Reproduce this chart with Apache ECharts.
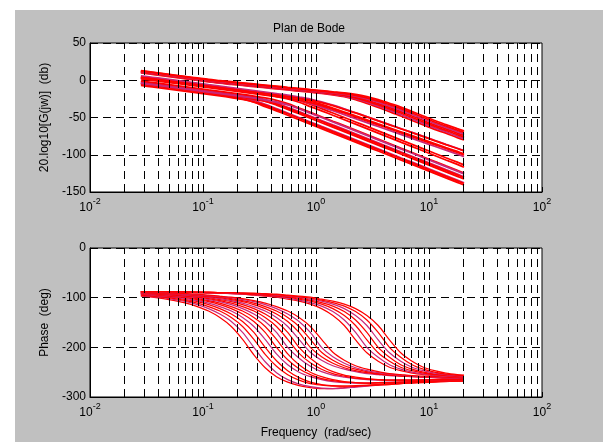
<!DOCTYPE html>
<html><head><meta charset="utf-8">
<script src="https://cdn.jsdelivr.net/npm/echarts@6/dist/echarts.min.js"></script>
<style>
html,body{margin:0;padding:0;background:#fff;width:603px;height:442px;overflow:hidden}
#c{position:absolute;left:15px;top:10px;width:588px;height:432px}
</style>
</head><body><div id="c"></div>
<script>
// frequency samples (rad/sec)
const freq = [0.0282,0.0355,0.0447,0.0562,0.0708,0.0891,0.112,0.141,0.178,0.224,0.282,0.355,0.447,0.562,0.708,0.891,1.12,1.41,1.78,2.24,2.82,3.55,4.47,5.62,7.08,8.91,11.2,14.1,17.8,20.4];

// magnitude (dB) - upper band
const magA0 = [10,8,6,4,2,0,-2,-4,-5.5,-7,-8.5,-10,-11.5,-13,-14.5,-16,-17.5,-19.5,-22,-26,-31,-36.5,-42,-48,-54,-60,-66,-71,-77,-80];
const magA1 = [10.5,8.5,6.5,4.5,2.5,0.5,-1.5,-3.4,-4.9,-6.4,-7.9,-9.4,-10.9,-12.4,-13.9,-15.4,-16.9,-18.8,-21.2,-24.8,-29.5,-34.8,-40.2,-46,-52,-58,-64,-69.1,-75,-78];
const magA2 = [11,9,7,5,3,1,-1,-2.8,-4.3,-5.8,-7.3,-8.8,-10.3,-11.8,-13.3,-14.8,-16.3,-18.2,-20.3,-23.7,-28,-33,-38.3,-44,-50,-56,-62,-67.2,-73,-76];
const magA3 = [11.5,9.5,7.5,5.5,3.5,1.5,-0.5,-2.3,-3.8,-5.3,-6.8,-8.3,-9.8,-11.3,-12.8,-14.3,-15.8,-17.5,-19.5,-22.5,-26.5,-31.3,-36.5,-42,-48,-54,-60,-65.3,-71,-74];
const magA4 = [12,10,8,6,4,2,0,-1.7,-3.2,-4.7,-6.2,-7.7,-9.2,-10.7,-12.2,-13.7,-15.2,-16.8,-18.7,-21.3,-25,-29.5,-34.7,-40,-46,-52,-58,-63.3,-69,-72];
const magA5 = [12.5,10.5,8.5,6.5,4.5,2.5,0.5,-1.1,-2.6,-4.1,-5.6,-7.1,-8.6,-10.1,-11.6,-13.1,-14.6,-16.2,-17.8,-20.2,-23.5,-27.8,-32.8,-38,-44,-50,-56,-61.4,-67,-70];
const magA6 = [13,11,9,7,5,3,1,-0.5,-2,-3.5,-5,-6.5,-8,-9.5,-11,-12.5,-14,-15.5,-17,-19,-22,-26,-31,-36,-42,-48,-54,-59.5,-65,-68];
// magnitude (dB) - lower families
const magB0 = [-5,-7,-9,-11,-13,-15,-17,-19.3,-21.8,-25,-29.5,-35.3,-41,-47,-53,-59,-65,-71,-77,-83,-89,-95,-101,-107,-113,-119,-125,-131,-137,-140.6];
const magB1 = [-4,-6,-8,-10,-12,-14,-16,-18,-20.5,-23.2,-27,-32.3,-38.2,-44,-50,-56,-62,-68,-74,-80,-86,-92,-98,-104,-110,-116,-122,-128,-134,-137.6];
const magB2 = [-7,-9,-11,-13,-15,-17,-19,-21,-23.3,-25.8,-29,-33.5,-39.3,-45,-51,-57,-63,-69,-75,-81,-87,-93,-99,-105,-111,-117,-123,-129,-135,-138.6];
const magB3 = [-3,-5,-7,-9,-11,-13,-15,-17,-19,-21.5,-24.2,-28,-33.3,-39.2,-45,-51,-57,-63,-69,-75,-81,-87,-93,-99,-105,-111,-117,-123,-129,-132.6];
const magB4 = [-2,-4,-6,-8,-10,-12,-14,-16,-18,-20.3,-22.8,-26,-30.5,-36.3,-42,-48,-54,-60,-66,-72,-78,-84,-90,-96,-102,-108,-114,-120,-126,-129.6];
const magB5 = [-5,-7,-9,-11,-13,-15,-17,-19,-21,-23,-25.5,-28.2,-32,-37.3,-43.2,-49,-55,-61,-67,-73,-79,-85,-91,-97,-103,-109,-115,-121,-127,-130.6];
const magB6 = [-1,-3,-5,-7,-9,-11,-13,-15,-17,-19,-21.3,-23.8,-27,-31.5,-37.3,-43,-49,-55,-61,-67,-73,-79,-85,-91,-97,-103,-109,-115,-121,-124.6];
const magB7 = [-4,-6,-8,-10,-12,-14,-16,-18,-20,-22,-24,-26.5,-29.2,-33,-38.3,-44.2,-50,-56,-62,-68,-74,-80,-86,-92,-98,-104,-110,-116,-122,-125.6];
const magB8 = [3,1,-1,-3,-5,-7,-9,-11,-13,-15,-17,-19.3,-21.8,-25,-29.5,-35.3,-41,-47,-53,-59,-65,-71,-77,-83,-89,-95,-101,-107,-113,-116.6];
const magB9 = [4,2,0,-2,-4,-6,-8,-10,-12,-14,-16,-18,-20.5,-23.2,-27,-32.3,-38.2,-44,-50,-56,-62,-68,-74,-80,-86,-92,-98,-104,-110,-113.6];
const magC0 = [3,1,-1,-3,-5,-7,-9,-11,-13,-15,-17,-19,-21.3,-23.8,-27,-31,-36,-40.9,-46.2,-51.5,-56.8,-62.1,-67.4,-72.7,-78,-83.3,-88.6,-93.9,-99.2,-102.4];
const magC1 = [5,3,1,-1,-3,-5,-7,-9,-11,-13,-15,-17,-19,-21.5,-24.2,-28,-32.5,-37.5,-42.6,-47.9,-53.2,-58.5,-63.8,-69.1,-74.4,-79.7,-85,-90.3,-95.6,-98.8];
const magC2 = [2,0,-2,-4,-6,-8,-10,-12,-14,-16,-18,-20,-22,-24.3,-26.8,-30,-34,-39,-43.9,-49.2,-54.5,-59.8,-65.1,-70.4,-75.7,-81,-86.3,-91.6,-96.9,-100.1];
const magC3 = [6,4,2,0,-2,-4,-6,-8,-10,-12,-14,-16,-18,-20,-22.5,-25.2,-29,-33.5,-38.5,-43.6,-48.9,-54.2,-59.5,-64.8,-70.1,-75.4,-80.7,-86,-91.3,-94.5];
const magC4 = [4,2,0,-2,-4,-6,-8,-10,-12,-14,-16,-18,-20,-22,-24.3,-26.8,-30,-34,-39,-43.9,-49.2,-54.5,-59.8,-65.1,-70.4,-75.7,-81,-86.3,-91.6,-94.8];

// phase (deg) - lower family
const phB0 = [-97,-99,-102,-106,-111,-118,-127,-140,-158,-184,-215,-241,-259,-270,-277,-281,-283,-283,-281,-279,-277,-275,-273,-272,-271,-270,-269,-268,-267,-267];
const phB1 = [-96,-98,-100,-104,-108,-114,-122,-133,-148,-170,-200,-229,-251,-265,-274,-279,-282,-283,-282,-280,-278,-276,-274,-272,-271,-270,-269,-268,-267,-267];
const phB2 = [-95,-97,-99,-102,-106,-111,-118,-127,-140,-158,-184,-214,-238,-255,-266,-273,-276,-278,-278,-277,-276,-275,-274,-273,-271,-270,-269,-268,-268,-267];
const phB3 = [-94,-96,-98,-100,-104,-108,-114,-122,-133,-148,-170,-200,-227,-247,-261,-270,-275,-277,-278,-278,-277,-276,-275,-273,-272,-271,-270,-269,-268,-268];
const phB4 = [-93,-95,-97,-99,-102,-106,-111,-118,-127,-140,-158,-184,-213,-235,-250,-259,-265,-269,-271,-272,-272,-271,-270,-270,-269,-268,-267,-267,-266,-266];
const phB5 = [-93,-94,-96,-98,-100,-104,-108,-114,-122,-133,-148,-170,-200,-225,-243,-255,-263,-267,-270,-271,-272,-271,-271,-270,-269,-268,-268,-267,-266,-266];
const phB6 = [-92,-93,-95,-97,-99,-102,-106,-111,-118,-127,-140,-158,-184,-213,-235,-250,-259,-265,-269,-271,-272,-272,-271,-270,-270,-269,-268,-267,-267,-266];
const phB7 = [-92,-93,-94,-96,-98,-100,-104,-108,-114,-122,-133,-148,-170,-200,-222,-238,-249,-256,-260,-263,-265,-266,-266,-266,-266,-265,-265,-265,-265,-265];
const phB8 = [-91,-92,-93,-95,-97,-99,-102,-106,-111,-118,-127,-140,-158,-184,-212,-231,-244,-253,-258,-262,-264,-265,-266,-266,-266,-266,-265,-265,-265,-265];
const phB9 = [-91,-92,-93,-94,-96,-98,-100,-104,-108,-114,-122,-133,-148,-170,-200,-222,-238,-249,-256,-260,-263,-265,-266,-266,-266,-266,-265,-265,-265,-265];
const phC0 = [-91,-91,-92,-93,-95,-97,-99,-102,-106,-111,-118,-127,-140,-158,-184,-210,-226,-237,-244,-249,-253,-255,-257,-258,-259,-260,-261,-262,-262,-263];
const phC1 = [-90,-91,-92,-93,-94,-96,-98,-100,-104,-108,-114,-122,-133,-148,-170,-200,-219,-232,-241,-247,-251,-254,-256,-258,-259,-260,-261,-262,-262,-263];
const phC2 = [-90,-91,-91,-92,-93,-95,-97,-99,-102,-106,-111,-118,-127,-140,-158,-184,-210,-226,-237,-244,-249,-253,-255,-257,-258,-259,-260,-261,-262,-262];
const phC3 = [-90,-90,-91,-92,-93,-94,-96,-98,-100,-104,-108,-114,-122,-133,-148,-170,-200,-219,-232,-241,-247,-251,-254,-256,-258,-259,-260,-261,-262,-262];
const phC4 = [-89,-90,-91,-91,-92,-93,-95,-97,-99,-102,-106,-111,-118,-127,-140,-158,-184,-210,-226,-237,-244,-249,-253,-255,-257,-258,-259,-260,-261,-262];
// phase (deg) - upper family
const phA0 = [-88,-88,-89,-89,-90,-90,-91,-91,-92,-93,-95,-97,-99,-103,-107,-113,-122,-136,-156,-185,-211,-228,-240,-247,-252,-255,-257,-258,-259,-260];
const phA1 = [-88,-88,-89,-89,-89,-90,-90,-91,-92,-93,-94,-96,-98,-101,-105,-110,-117,-128,-145,-170,-200,-220,-235,-244,-250,-254,-256,-258,-259,-259];
const phA2 = [-88,-88,-88,-89,-89,-90,-90,-91,-91,-92,-93,-95,-97,-99,-103,-107,-113,-122,-136,-156,-185,-211,-228,-240,-247,-252,-255,-257,-258,-259];
const phA3 = [-88,-88,-88,-89,-89,-89,-90,-90,-91,-92,-93,-94,-96,-98,-101,-105,-110,-117,-128,-145,-170,-200,-220,-235,-244,-250,-254,-256,-258,-258];
const phA4 = [-88,-88,-88,-88,-89,-89,-90,-90,-91,-91,-92,-93,-95,-97,-99,-103,-107,-113,-122,-136,-156,-185,-211,-228,-240,-247,-252,-255,-257,-258];
const phA5 = [-88,-88,-88,-88,-89,-89,-89,-90,-90,-91,-92,-93,-94,-96,-98,-101,-105,-110,-117,-128,-145,-170,-200,-220,-235,-244,-250,-254,-256,-257];
const phA6 = [-88,-88,-88,-88,-88,-89,-89,-90,-90,-91,-91,-92,-93,-95,-97,-99,-103,-107,-113,-122,-136,-156,-185,-211,-228,-240,-247,-252,-255,-256];

// axis tick values
const magTicks = {min: -150, max: 50, step: 50};
const phaseTicks = {min: -300, max: 0, step: 100};
const gridFreqs = [0.02,0.03,0.04,0.05,0.06,0.07,0.08,0.09,0.1,0.2,0.3,0.4,0.5,0.6,0.7,0.8,0.9,1,2,3,4,5,6,7,8,9,10,20,30,40,50,60,70,80,90];

const magCurves = [magB0,magB1,magB2,magB3,magB4,magB5,magB6,magB7,magB8,magB9,magC0,magC1,magC2,magC3,magC4,magA0,magA1,magA2,magA3,magA4,magA5,magA6];
const phCurves = [phB0,phB1,phB2,phB3,phB4,phB5,phB6,phB7,phB8,phB9,phC0,phC1,phC2,phC3,phC4,phA0,phA1,phA2,phA3,phA4,phA5,phA6];

const FONT = 'Liberation Sans, Arial, Helvetica, sans-serif';
const colors = ['#ff0000', '#c8287a', '#ff0000'];
const dash = [8, 5];

function xAxisCfg(idx, name) {
  return {
    type: 'log', logBase: 10, min: 0.01, max: 100, gridIndex: idx,
    axisLine: {show: true, onZero: false, lineStyle: {color: '#000', width: 1}},
    axisTick: {show: true, inside: true, length: 5, lineStyle: {color: '#000'}},
    splitLine: {show: false},
    axisLabel: {
      margin: 5, color: '#000',
      formatter: function (v) { const e = Math.round(Math.log10(v)); return '{b|10}{e|' + e + '}'; },
      rich: {
        b: {fontSize: 12, fontFamily: FONT, color: '#000', padding: [5, 0, 0, 0], verticalAlign: 'bottom'},
        e: {fontSize: 9, fontFamily: FONT, color: '#000', verticalAlign: 'top'}
      }
    },
    name: name || '', nameLocation: 'middle', nameGap: 30,
    nameTextStyle: {color: '#000', fontSize: 12, fontFamily: FONT}
  };
}
function yAxisCfg(idx, t, name) {
  return {
    type: 'value', gridIndex: idx, min: t.min, max: t.max, interval: t.step,
    axisLine: {show: true, onZero: false, lineStyle: {color: '#000'}},
    axisTick: {show: true, inside: true, length: 5, lineStyle: {color: '#000'}},
    axisLabel: {color: '#000', fontSize: 12, fontFamily: FONT, margin: 4},
    splitLine: {show: true, lineStyle: {color: '#000', type: dash, width: 1}},
    name: name, nameLocation: 'middle', nameGap: 39,
    nameTextStyle: {color: '#000', fontSize: 12, fontFamily: FONT}
  };
}
function gridLines(idx) {
  return {
    type: 'line', xAxisIndex: idx, yAxisIndex: idx, data: [], silent: true, z: 1,
    markLine: {
      silent: true, symbol: ['none', 'none'], label: {show: false}, animation: false,
      lineStyle: {color: '#000', type: dash, width: 1},
      emphasis: {disabled: true},
      data: gridFreqs.map(f => ({xAxis: f}))
    }
  };
}
const series = [gridLines(0), gridLines(1)];
magCurves.forEach((c, i) => series.push({
  type: 'line', xAxisIndex: 0, yAxisIndex: 0, z: 3, smooth: 0.3, showSymbol: false, silent: true,
  lineStyle: {color: colors[i % 3], width: 1.8}, data: c.map((v, j) => [freq[j], v])
}));
phCurves.forEach((c, i) => series.push({
  type: 'line', xAxisIndex: 1, yAxisIndex: 1, z: 3, smooth: 0.3, showSymbol: false, silent: true,
  lineStyle: {color: colors[i % 3], width: 1.2}, data: c.map((v, j) => [freq[j], v])
}));

const chart = echarts.init(document.getElementById('c'), null, {renderer: 'canvas'});
chart.setOption({
  animation: false,
  backgroundColor: '#c0c0c0',
  title: {text: 'Plan de Bode', left: 'center', top: 8,
    textStyle: {fontSize: 12, fontWeight: 'normal', color: '#000', fontFamily: FONT}},
  grid: [
    {left: 75, top: 33, width: 452, height: 149, show: true, backgroundColor: '#fff', borderColor: '#000', borderWidth: 1},
    {left: 75, top: 238, width: 452, height: 149, show: true, backgroundColor: '#fff', borderColor: '#000', borderWidth: 1}
  ],
  xAxis: [xAxisCfg(0), xAxisCfg(1, 'Frequency  (rad/sec)')],
  yAxis: [yAxisCfg(0, magTicks, '20.log10[G(jw)]  (db)'), yAxisCfg(1, phaseTicks, 'Phase  (deg)')],
  series: series
});
</script>
</body></html>
